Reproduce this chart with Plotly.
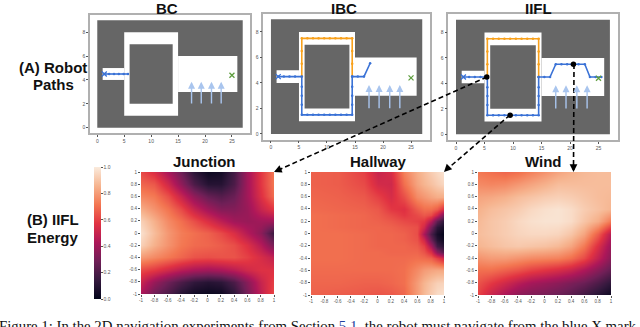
import plotly.graph_objects as go

W, H = 640, 327

# maze layout, data units of the robot plots
wall = [0, 27, 0, 9]
free_areas = [[1, 5, 4, 5], [5, 15, 1, 8], [15, 26, 3, 6]]
pillar = [6, 14, 2, 7]
wind_x = [17.5, 19.3, 21.2, 23.0]
wind_from, wind_to = 1.9, 3.85
start_xy = [1.3, 4.5]
goal_xy = [25, 4.4]

bc_x = [1.3, 2.2, 3.1, 4.0, 4.9, 5.7]
bc_y = [4.5, 4.5, 4.5, 4.5, 4.5, 4.5]

low_x = [1.3, 2.3, 3.3, 4.3, 5.5, 5.5, 5.5, 5.5, 5.5, 6.5, 7.5, 8.5, 9.5, 10.5, 11.5, 12.5, 13.5, 14.5, 14.5, 14.5, 14.5, 14.5]
low_y = [4.5, 4.5, 4.5, 4.5, 4.5, 3.7, 3.0, 2.3, 1.5, 1.5, 1.5, 1.5, 1.5, 1.5, 1.5, 1.5, 1.5, 1.5, 2.3, 3.0, 3.7, 4.5]
top_x = [5.5, 5.5, 5.5, 5.5, 6.5, 7.5, 8.5, 9.5, 10.5, 11.5, 12.5, 13.5, 14.5, 14.5, 14.5, 14.5]
top_y = [4.5, 5.5, 6.5, 7.5, 7.5, 7.5, 7.5, 7.5, 7.5, 7.5, 7.5, 7.5, 7.5, 6.5, 5.5, 4.5]

ibc_end_x = [14.5, 15.5, 16.6, 17.7]
ibc_end_y = [4.5, 4.5, 4.5, 5.55]
iifl_end_x = [14.5, 15.5, 16.5, 17.5, 18.5, 19.5, 20.5, 21.5, 22.6, 23.5, 24.5, 25.5]
iifl_end_y = [4.5, 4.5, 4.5, 5.5, 5.5, 5.5, 5.5, 5.5, 5.5, 4.5, 4.5, 4.5]

dots_x = [5.4, 9.5, 20.6]
dots_y = [4.5, 1.5, 5.5]

# energy grids, first row is y=1
grid = [-1, -0.8, -0.6, -0.4, -0.2, 0, 0.2, 0.4, 0.6, 0.8, 1]
grid_labels = ['-1', '-0.8', '-0.6', '-0.4', '-0.2', '0', '0.2', '0.4', '0.6', '0.8', '1']

junction = [
    [.62, .55, .42, .28, .12, .03, .05, .18, .40, .58, .72],
    [.68, .65, .52, .36, .20, .10, .10, .20, .40, .58, .72],
    [.75, .72, .63, .50, .36, .26, .22, .27, .40, .56, .70],
    [.84, .78, .71, .62, .50, .40, .33, .33, .38, .50, .58],
    [.93, .85, .76, .70, .63, .55, .47, .40, .38, .40, .40],
    [.97, .88, .79, .73, .70, .67, .62, .55, .45, .35, .15],
    [.93, .85, .78, .72, .69, .68, .66, .63, .56, .45, .30],
    [.80, .76, .72, .68, .64, .63, .64, .64, .60, .54, .48],
    [.62, .58, .52, .46, .42, .40, .42, .46, .52, .56, .56],
    [.50, .38, .28, .20, .13, .10, .12, .20, .34, .50, .60],
    [.42, .28, .20, .10, .04, .02, .03, .12, .30, .48, .62],
]

hall_x = [-1, -0.6, -0.2, 0, 0.2, 0.4, 0.6, 0.7, 0.8, 0.9, 1]
hall_y = [1, 0.8, 0.6, 0.4, 0.3, 0.2, 0.1, 0, -0.1, -0.2, -0.3, -0.4, -0.6, -0.8, -1]
hallway = [
    [.67, .66, .60, .50, .54, .74, .84, .88, .92, .95, .98],
    [.67, .66, .62, .53, .52, .70, .82, .86, .89, .92, .95],
    [.68, .67, .65, .60, .54, .63, .76, .79, .82, .84, .84],
    [.69, .68, .67, .65, .58, .56, .66, .70, .70, .66, .55],
    [.70, .69, .68, .66, .62, .58, .62, .65, .62, .50, .30],
    [.70, .69, .68, .67, .65, .62, .60, .58, .45, .25, .12],
    [.70, .69, .68, .68, .67, .65, .63, .52, .30, .12, .05],
    [.70, .70, .69, .68, .68, .67, .63, .42, .20, .06, .00],
    [.70, .70, .69, .68, .68, .67, .64, .52, .28, .10, .03],
    [.70, .70, .69, .68, .68, .68, .66, .60, .42, .18, .10],
    [.70, .70, .69, .69, .68, .68, .68, .64, .55, .35, .22],
    [.70, .70, .69, .69, .69, .69, .70, .69, .67, .60, .52],
    [.69, .69, .69, .69, .69, .70, .76, .80, .82, .83, .83],
    [.68, .68, .67, .67, .68, .70, .80, .86, .90, .93, .94],
    [.67, .66, .65, .64, .65, .68, .80, .87, .92, .96, .98],
]

wind = [
    [.72, .70, .68, .70, .74, .78, .82, .85, .87, .88, .88],
    [.76, .75, .76, .79, .82, .85, .88, .88, .88, .88, .88],
    [.82, .83, .85, .88, .90, .92, .93, .92, .90, .88, .87],
    [.85, .88, .90, .92, .95, .97, .98, .96, .92, .89, .86],
    [.87, .90, .92, .95, .97, .98, .98, .96, .90, .84, .72],
    [.88, .90, .92, .94, .95, .95, .94, .90, .82, .66, .45],
    [.86, .88, .90, .91, .90, .89, .87, .82, .72, .55, .38],
    [.78, .80, .80, .78, .76, .75, .74, .70, .62, .48, .34],
    [.70, .70, .67, .64, .60, .57, .54, .50, .43, .34, .25],
    [.64, .58, .52, .46, .41, .38, .35, .31, .27, .20, .12],
    [.60, .50, .42, .35, .32, .30, .27, .23, .17, .10, .03],
]

rocket = [[0, '#03051a'], [1/7, '#35193e'], [2/7, '#701f57'], [3/7, '#ad1759'],
          [4/7, '#e13342'], [5/7, '#f37651'], [6/7, '#f6b48f'], [1, '#faebdd']]

BLUE = '#3a72d6'
ORANGE = '#f9a11b'
ARROW = '#a9c5ee'
TICK = '#555555'
SANS = 'Liberation Sans, Arial, sans-serif'


def fx(px):
    return px / W


def fy(py):
    return 1 - py / H


def path_trace(x, y, color, ax):
    return go.Scatter(x=x, y=y, mode='lines+markers', line={'color': color, 'width': 1.6},
                      marker={'color': color, 'size': 2.5}, xaxis=f'x{ax}', yaxis=f'y{ax}',
                      showlegend=False, hoverinfo='skip')


def x_mark(xy, color, ax):
    return go.Scatter(x=[xy[0]], y=[xy[1]], mode='markers', xaxis=f'x{ax}', yaxis=f'y{ax}',
                      marker={'symbol': 'x-thin', 'size': 5, 'line': {'color': color, 'width': 1.3}},
                      showlegend=False, hoverinfo='skip')


fig = go.Figure()

# top row: robot paths
robot_paths = {
    1: [(bc_x, bc_y, BLUE)],
    2: [(top_x, top_y, ORANGE), (low_x, low_y, BLUE), (ibc_end_x, ibc_end_y, BLUE)],
    3: [(top_x, top_y, ORANGE), (low_x, low_y, BLUE), (iifl_end_x, iifl_end_y, BLUE)],
}
for ax, paths in robot_paths.items():
    for x, y, color in paths:
        fig.add_trace(path_trace(x, y, color, ax))
    fig.add_trace(x_mark(start_xy, BLUE, ax))
    fig.add_trace(x_mark(goal_xy, '#5f9e3f', ax))

fig.add_trace(go.Scatter(x=dots_x, y=dots_y, mode='markers', xaxis='x3', yaxis='y3',
                         marker={'color': '#000000', 'size': 5.5},
                         showlegend=False, hoverinfo='skip'))

# bottom row: energy maps
maps = [(junction, grid, grid[::-1], 4), (hallway, hall_x, hall_y, 5), (wind, grid, grid[::-1], 6)]
for z, x, y, ax in maps:
    fig.add_trace(go.Heatmap(z=z[::-1], x=x, y=y[::-1], coloraxis='coloraxis', zsmooth='best',
                             xaxis=f'x{ax}', yaxis=f'y{ax}', hoverinfo='skip'))

layout = {}
top_boxes = {1: (90, 250, 15, 133), 2: (263.4, 429.8, 13.5, 139.7), 3: (448.3, 617.6, 14, 140)}
for ax, (x0, x1, y0, y1) in top_boxes.items():
    name = '' if ax == 1 else str(ax)
    layout[f'xaxis{name}'] = dict(domain=[fx(x0), fx(x1)], range=[-1.35, 28.35], anchor=f'y{name}',
                                  tickvals=[0, 5, 10, 15, 20, 25], showgrid=False, zeroline=False,
                                  showline=True, mirror=True, linecolor='#b0b0b0', linewidth=1.5,
                                  ticks='outside', ticklen=2, tickwidth=0.7, tickcolor=TICK,
                                  tickfont={'size': 5, 'color': TICK})
    layout[f'yaxis{name}'] = dict(domain=[fy(y1), fy(y0)], range=[-0.45, 9.45], anchor=f'x{name}',
                                  tickvals=[0, 2, 4, 6, 8], showgrid=False, zeroline=False,
                                  showline=True, mirror=True, linecolor='#b0b0b0', linewidth=1.5,
                                  ticks='outside', ticklen=2, tickwidth=0.7, tickcolor=TICK,
                                  tickfont={'size': 5, 'color': TICK})

map_boxes = {4: (141, 274, 172, 294), 5: (311, 444, 172, 295), 6: (478, 611, 172, 295)}
for ax, (x0, x1, y0, y1) in map_boxes.items():
    layout[f'xaxis{ax}'] = dict(domain=[fx(x0), fx(x1)], range=[-1, 1], anchor=f'y{ax}',
                                tickvals=grid, ticktext=grid_labels, tickangle=0, showgrid=False,
                                zeroline=False, ticks='outside', ticklen=2, tickwidth=0.7,
                                tickcolor=TICK, tickfont={'size': 4.5, 'color': TICK})
    layout[f'yaxis{ax}'] = dict(domain=[fy(y1), fy(y0)], range=[-1, 1], anchor=f'x{ax}',
                                tickvals=grid, ticktext=grid_labels, showgrid=False,
                                zeroline=False, ticks='outside', ticklen=2, tickwidth=0.7,
                                tickcolor=TICK, tickfont={'size': 4.5, 'color': TICK})

# maze drawn below the paths
shapes = []
for ax in top_boxes:
    ref = '' if ax == 1 else str(ax)
    for area, color in [(wall, '#666666')] + [(a, '#ffffff') for a in free_areas] + [(pillar, '#666666')]:
        shapes.append(dict(type='rect', xref=f'x{ref}', yref=f'y{ref}', x0=area[0], x1=area[1],
                           y0=area[2], y1=area[3], fillcolor=color, line={'width': 0}, layer='below'))

# dashed leaders from the IIFL path down to the energy maps
leaders = [(487, 77, 276, 171), (510, 115, 445, 171), (574, 64, 573.5, 170)]
for x0, y0, x1, y1 in leaders:
    shapes.append(dict(type='line', xref='paper', yref='paper', x0=fx(x0), y0=fy(y0), x1=fx(x1), y1=fy(y1),
                       line={'color': '#000000', 'width': 1.6, 'dash': '5px,3px'}))

annotations = []
# wind arrows
for ax in top_boxes:
    ref = '' if ax == 1 else str(ax)
    for wx in wind_x:
        annotations.append(dict(x=wx, y=wind_to, ax=wx, ay=wind_from, xref=f'x{ref}', yref=f'y{ref}',
                                axref=f'x{ref}', ayref=f'y{ref}', text='', showarrow=True, arrowhead=2,
                                arrowsize=1, arrowwidth=1.4, arrowcolor=ARROW))

# leader arrow heads
heads = [(274, 172, 9, -4), (444, 172, 6, -6), (573.5, 172, 0, -9)]
for x, y, dx, dy in heads:
    annotations.append(dict(x=fx(x), y=fy(y), xref='paper', yref='paper', ax=dx, ay=dy, text='',
                            showarrow=True, arrowhead=2, arrowsize=1.1, arrowwidth=1.4, arrowcolor='#000000'))

titles = [('BC', 167, 8.5), ('IBC', 344, 8.5), ('IIFL', 538, 8.5), ('Junction', 204, 161),
          ('Hallway', 378, 161), ('Wind', 543, 161), ('(A) Robot', 53, 68), ('Paths', 53, 85),
          ('(B) IIFL', 53, 219), ('Energy', 53, 237)]
for text, x, y in titles:
    annotations.append(dict(x=fx(x), y=fy(y), xref='paper', yref='paper', text=f'<b>{text}</b>',
                            showarrow=False, xanchor='center', yanchor='middle', borderpad=0,
                            font={'family': SANS, 'size': 15, 'color': '#111111'}))

caption = ('Figure 1: In the 2D navigation experiments from Section '
           '<span style="color:#1f3f9e">5.1</span>, the robot must navigate from the blue X mark')
annotations.append(dict(x=fx(-3), y=fy(326), xref='paper', yref='paper', text=caption, showarrow=False,
                        xanchor='left', yanchor='middle',
                        font={'family': 'Liberation Serif, Times New Roman, serif', 'size': 14.8, 'color': '#111111'}))

fig.update_layout(
    width=W, height=H, showlegend=False,
    margin={'l': 0, 'r': 0, 't': 0, 'b': 0, 'autoexpand': False},
    paper_bgcolor='white', plot_bgcolor='white',
    font={'family': SANS},
    shapes=shapes, annotations=annotations,
    coloraxis=dict(cmin=0, cmax=1, colorscale=rocket,
                   colorbar=dict(x=fx(94), xanchor='left', y=fy(233), yanchor='middle',
                                 thickness=7, len=132 / H, lenmode='fraction', xpad=0, ypad=0,
                                 outlinewidth=0, tickvals=[0, .2, .4, .6, .8, 1],
                                 ticktext=['0.0', '0.2', '0.4', '0.6', '0.8', '1.0'],
                                 ticks='outside', ticklen=2, tickwidth=0.7, tickcolor=TICK,
                                 tickfont={'size': 5, 'color': TICK})),
    **layout,
)

# browser default body margin would push the figure off the window
fig.write_html("out.html", config={'displayModeBar': False},
               post_script="document.body.style.margin='0';document.body.style.overflow='hidden';")
